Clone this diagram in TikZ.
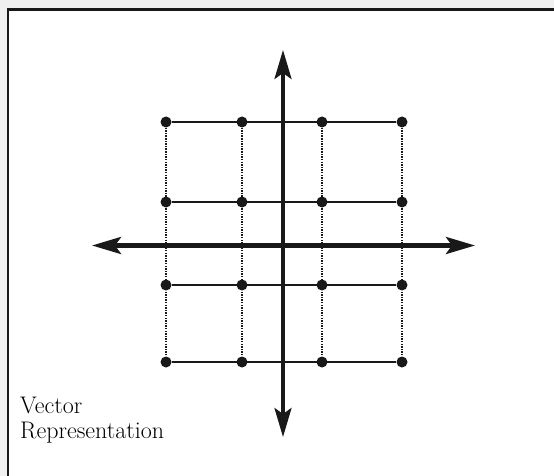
\documentclass[tikz,border=0pt]{standalone}
\usetikzlibrary{arrows.meta}
\begin{document}
\begin{tikzpicture}[x=1pt,y=-1pt,
  dot/.style={circle,fill=black!90,inner sep=0pt,minimum size=11pt},
  gridline/.style={line width=2pt,draw=black!90},
  dotline/.style={line width=2pt,draw=black!90,dash pattern=on 1.5pt off 1.1pt},
  axis/.style={draw=black!90,{Stealth[length=29pt,width=17pt,inset=6pt]}-{Stealth[length=29pt,width=17pt,inset=6pt]}},
  label/.style={anchor=base west,align=left,inner sep=0pt,font=\fontsize{24}{24.5}\selectfont}]
\useasboundingbox (0,0) rectangle (554,476);
% margins outside the frame
\fill[gray!12] (0,0) rectangle (554,8);
\fill[gray!12] (0,0) rectangle (7,476);
\draw[line width=2.6pt,black!90] (8,476) -- (8,9.3) -- (554,9.3);
% grid dots
\foreach \c/\x in {1/166,2/242,3/322,4/402}{
  \foreach \r/\y in {1/122,2/202,3/285,4/362}{
    \node[dot] (d\r\c) at (\x,\y) {};
  }
}
% dotted verticals
\foreach \c in {1,2,3,4}{
  \draw[dotline] (d1\c) -- (d4\c);
}
% horizontal grid lines
\foreach \r in {1,2,3,4}{
  \draw[gridline] (d\r1) -- (d\r4);
}
% axes
\coordinate (axT) at (283,50);
\coordinate (axB) at (283,437);
\coordinate (axL) at (92,245.5);
\coordinate (axR) at (475,245.5);
\draw[axis,line width=4.3pt] (axL) -- (axR);
\draw[axis,line width=3.6pt] (axT) -- (axB);
% label
\node[label] (lbl) at (20,438) {Vector\\Representation};
\end{tikzpicture}
\end{document}
